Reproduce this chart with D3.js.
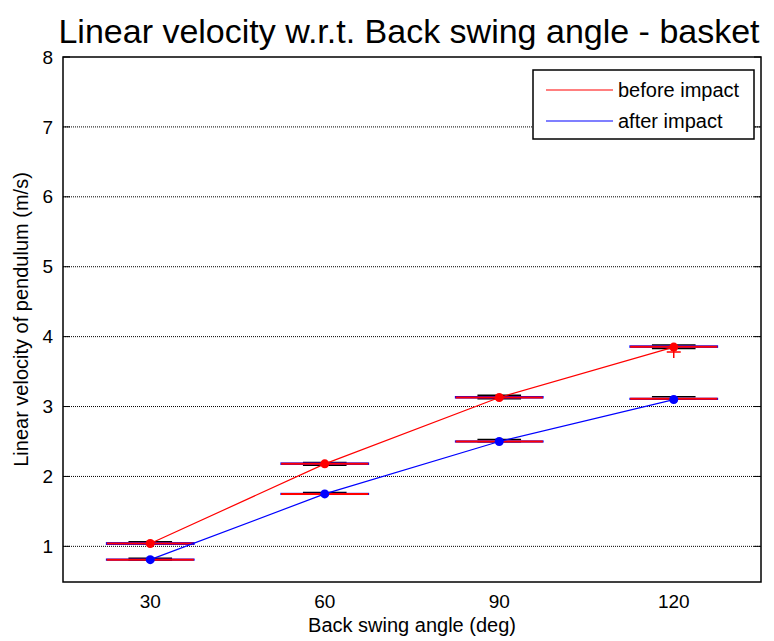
<!DOCTYPE html>
<html>
<head>
<meta charset="utf-8">
<script src="https://cdn.jsdelivr.net/npm/d3@7"></script>
<style>
  body { margin: 0; background: #fff; }
  text { font-family: "Liberation Sans", Arial, sans-serif; }
</style>
</head>
<body>
<div id="chart"></div>
<script>
// data
const angles = [30, 60, 90, 120];
const beforeMean = [1.04, 2.18, 3.13, 3.85];
const afterMean = [0.81, 1.75, 2.50, 3.10];
// box stats: [lowerAdj, q1, median, q3, upperAdj]
const beforeBox = [
  [1.03, 1.03, 1.04, 1.05, 1.065],
  [2.16, 2.175, 2.18, 2.19, 2.20],
  [3.11, 3.125, 3.13, 3.14, 3.16],
  [3.83, 3.85, 3.855, 3.865, 3.88]
];
const afterBox = [
  [0.80, 0.805, 0.81, 0.815, 0.83],
  [1.745, 1.745, 1.75, 1.755, 1.77],
  [2.495, 2.495, 2.50, 2.505, 2.53],
  [3.105, 3.105, 3.11, 3.115, 3.14]
];
// outliers: [angle, value]
const outliers = [[120, 3.78]];
const yTicks = [1, 2, 3, 4, 5, 6, 7, 8];

const W = 774, H = 641;
const margin = {top: 57, right: 13, bottom: 59, left: 63};
const width = W - margin.left - margin.right,
      height = H - margin.top - margin.bottom;

const svg = d3.select("#chart").append("svg")
  .attr("width", W).attr("height", H);

const g = svg.append("g")
  .attr("transform", `translate(${margin.left},${margin.top})`);

const x = d3.scaleLinear().domain([15, 135]).range([0, width]);
const y = d3.scaleLinear().domain([0.49, 8]).range([height, 0]);

// horizontal dotted grid
g.selectAll(".grid").data(yTicks.filter(d => d < 8)).join("line")
  .attr("x1", 0).attr("x2", width)
  .attr("y1", d => y(d)).attr("y2", d => y(d))
  .attr("stroke", "#000").attr("stroke-width", 1)
  .attr("stroke-dasharray", "1,1");

// box plots
function drawBoxes(stats) {
  stats.forEach((s, i) => {
    const cx = x(angles[i]);
    const bw = x(15 + 7.5) - x(15);   // half box width
    const aw = bw / 2;               // half adjacent width
    // whiskers
    g.append("line").attr("x1", cx).attr("x2", cx)
      .attr("y1", y(s[0])).attr("y2", y(s[1]))
      .attr("stroke", "#000").attr("stroke-dasharray", "3,2");
    g.append("line").attr("x1", cx).attr("x2", cx)
      .attr("y1", y(s[3])).attr("y2", y(s[4]))
      .attr("stroke", "#000").attr("stroke-dasharray", "3,2");
    // adjacent values
    [s[0], s[4]].forEach(v => {
      g.append("line").attr("x1", cx - aw).attr("x2", cx + aw)
        .attr("y1", y(v)).attr("y2", y(v))
        .attr("stroke", "#000").attr("stroke-width", 1.5);
    });
    // box
    g.append("rect")
      .attr("x", cx - bw).attr("width", 2 * bw)
      .attr("y", y(s[3])).attr("height", Math.max(0, y(s[1]) - y(s[3])))
      .attr("fill", "none").attr("stroke", "#0000ff").attr("stroke-width", 1.5);
    // median
    g.append("line").attr("x1", cx - bw).attr("x2", cx + bw)
      .attr("y1", y(s[2])).attr("y2", y(s[2]))
      .attr("stroke", "#ff0000").attr("stroke-width", 2);
  });
}
drawBoxes(beforeBox);
drawBoxes(afterBox);

// outliers
outliers.forEach(o => {
  const px = x(o[0]), py = y(o[1]);
  g.append("path")
    .attr("d", `M${px - 7},${py}H${px + 7}M${px},${py - 6}V${py + 6}`)
    .attr("stroke", "#ff0000").attr("stroke-width", 1.5).attr("fill", "none");
});

// mean lines
const line = d3.line().x((d, i) => x(angles[i])).y(d => y(d));
g.append("path").datum(beforeMean).attr("d", line)
  .attr("fill", "none").attr("stroke", "#ff0000").attr("stroke-width", 1.2);
g.append("path").datum(afterMean).attr("d", line)
  .attr("fill", "none").attr("stroke", "#0000ff").attr("stroke-width", 1.2);
g.selectAll(".bdot").data(beforeMean).join("circle")
  .attr("cx", (d, i) => x(angles[i])).attr("cy", d => y(d)).attr("r", 4.5)
  .attr("fill", "#ff0000");
g.selectAll(".adot").data(afterMean).join("circle")
  .attr("cx", (d, i) => x(angles[i])).attr("cy", d => y(d)).attr("r", 4.5)
  .attr("fill", "#0000ff");

// axes box and ticks
g.append("rect").attr("x", 0).attr("y", 0).attr("width", width).attr("height", height)
  .attr("fill", "none").attr("stroke", "#000").attr("stroke-width", 1.5);
yTicks.forEach(t => {
  g.append("line").attr("x1", 0).attr("x2", 7).attr("y1", y(t)).attr("y2", y(t))
    .attr("stroke", "#000");
  g.append("line").attr("x1", width - 7).attr("x2", width).attr("y1", y(t)).attr("y2", y(t))
    .attr("stroke", "#000");
  g.append("text").attr("x", -10).attr("y", y(t)).attr("dy", "0.35em")
    .attr("text-anchor", "end").style("font-size", "19px").text(t);
});
angles.forEach(a => {
  g.append("text").attr("x", x(a)).attr("y", height + 26)
    .attr("text-anchor", "middle").style("font-size", "19px").text(a);
});

// labels
g.append("text").attr("x", width / 2).attr("y", height + 50)
  .attr("text-anchor", "middle").style("font-size", "20px")
  .text("Back swing angle (deg)");
g.append("text").attr("transform", "rotate(-90)")
  .attr("x", -height / 2).attr("y", -35)
  .attr("text-anchor", "middle").style("font-size", "20px")
  .text("Linear velocity of pendulum (m/s)");
svg.append("text").attr("x", 409).attr("y", 43)
  .attr("text-anchor", "middle").style("font-size", "34px")
  .text("Linear velocity w.r.t. Back swing angle - basket");

// legend
const lg = svg.append("g").attr("transform", "translate(533,70)");
lg.append("rect").attr("width", 221).attr("height", 69)
  .attr("fill", "#fff").attr("stroke", "#000").attr("stroke-width", 1.5);
[["before impact", "#ff0000"], ["after impact", "#0000ff"]].forEach((d, i) => {
  const ly = 20 + i * 31;
  lg.append("line").attr("x1", 13).attr("x2", 80).attr("y1", ly).attr("y2", ly)
    .attr("stroke", d[1]).attr("stroke-width", 1.2);
  lg.append("text").attr("x", 85).attr("y", ly).attr("dy", "0.35em")
    .style("font-size", "20px").text(d[0]);
});
</script>
</body>
</html>
